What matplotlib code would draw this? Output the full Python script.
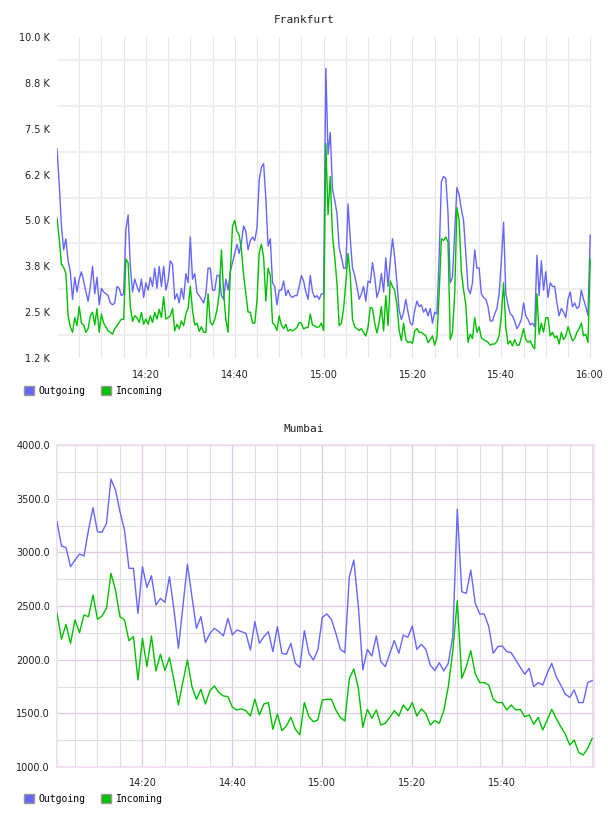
import matplotlib.pyplot as plt
import numpy as np
from matplotlib.patches import Patch

# Frankfurt traffic, one sample every 30 s from 14:00 to 16:00 (thousands)
fra_outgoing = [
    6.95, 6.0, 4.85, 4.2, 4.5, 3.9, 3.6, 2.85, 3.45, 3.05,
    3.4, 3.6, 3.35, 3.05, 2.8, 3.2, 3.75, 3.0, 3.45, 2.7,
    3.15, 3.05, 3.0, 2.95, 2.75, 2.7, 2.75, 3.2, 3.15, 2.95,
    3.0, 4.75, 5.15, 3.75, 3.05, 3.4, 3.2, 3.05, 3.4, 2.9,
    3.3, 3.1, 3.45, 3.2, 3.7, 3.15, 3.75, 3.2, 3.75, 3.1,
    3.35, 3.9, 3.8, 2.85, 3.0, 2.75, 3.15, 2.85, 3.55, 3.3,
    4.55, 3.4, 3.55, 3.03, 2.95, 2.85, 2.75, 3.0, 3.7, 3.7,
    3.1, 3.1, 3.5, 3.5, 2.95, 2.85, 3.4, 3.1, 3.6, 3.85,
    4.1, 4.35, 4.1, 4.4, 4.85, 4.7, 4.2, 4.45, 4.55, 4.45,
    4.8, 6.1, 6.45, 6.55, 5.6, 4.3, 4.5, 3.3, 3.2, 2.7,
    3.1, 3.1, 3.35, 2.95, 3.1, 2.95, 2.9, 2.95, 2.95, 3.2,
    3.5, 3.35, 3.05, 2.85, 3.5, 3.05, 2.9, 2.95, 2.85, 3.0,
    3.0, 9.15, 6.8, 7.4, 5.85, 5.55, 5.2, 4.25, 4.0, 3.7,
    3.7, 5.45, 4.5, 3.7, 3.5, 3.2, 2.85, 3.0, 3.2, 2.8,
    3.35, 3.3, 3.85, 3.45, 2.9, 3.1, 3.55, 3.05, 3.98, 3.2,
    3.9, 4.5, 4.0, 3.3, 2.55, 2.3, 2.5, 2.85, 2.5, 2.2,
    2.15, 2.55, 2.8, 2.65, 2.7, 2.5, 2.6, 2.4, 2.6, 2.2,
    2.5, 2.45, 4.0, 6.05, 6.2, 6.15, 5.2, 3.3, 3.45, 4.65,
    5.9, 5.7, 5.3, 5.0, 4.1, 3.15, 3.0, 3.3, 4.2, 3.7,
    3.7, 3.0, 2.9, 2.85, 2.65, 2.26, 2.26, 2.45, 2.6, 3.0,
    3.9, 4.95, 3.0, 2.7, 2.45, 2.4, 2.25, 2.05, 2.15, 2.3,
    2.75, 2.4, 2.3, 2.15, 2.2, 2.1, 4.05, 2.95, 3.9, 3.1,
    3.6, 2.9, 3.3, 3.2, 3.2, 2.75, 2.4, 2.6, 2.5, 2.35,
    2.85, 3.05, 2.65, 2.75, 2.6, 2.65, 3.1, 2.85, 2.65, 2.4,
    4.6,
]
fra_incoming = [
    5.07, 4.5, 3.8, 3.72, 3.55, 2.4, 2.1, 1.95, 2.35, 2.13,
    2.65, 2.2, 2.15, 1.95, 2.05, 2.4, 2.5, 2.15, 2.6, 1.95,
    2.45, 2.2, 2.1, 1.99, 1.95, 1.9, 2.05, 2.13, 2.22, 2.31,
    2.3, 3.95, 3.85, 2.65, 2.25, 2.4, 2.35, 2.22, 2.49, 2.17,
    2.31, 2.17, 2.4, 2.22, 2.49, 2.31, 2.58, 2.35, 2.92, 2.31,
    2.35, 2.4, 2.6, 1.99, 2.17, 2.04, 2.26, 2.13, 2.45, 2.6,
    3.2, 2.55, 2.15, 2.2, 1.98, 2.1, 1.95, 1.95, 3.0, 2.22,
    2.15, 2.3, 2.55, 3.0, 4.2, 3.0, 2.3, 1.95, 3.6, 4.85,
    5.0, 4.7, 4.6, 4.2, 3.5, 3.0, 2.5, 2.5, 2.2, 2.2,
    2.8, 4.1, 4.35, 4.0, 2.8, 3.7, 3.5, 2.2, 2.15, 2.0,
    2.4, 2.15, 2.05, 2.17, 1.98, 2.03, 1.99, 2.03, 2.08, 2.22,
    2.2, 2.04, 2.08, 2.08, 2.45, 2.15, 2.13, 2.08, 2.1, 2.2,
    2.0, 7.1, 5.16, 6.2, 4.6, 4.0, 3.3, 2.13, 2.2, 2.6,
    3.3, 4.1, 3.5, 2.3, 2.1, 2.05, 2.0, 2.05, 1.95, 1.85,
    2.1, 2.63, 2.6, 2.2, 1.93, 2.22, 2.65, 1.99, 2.95, 2.13,
    3.35, 3.2, 3.1, 2.7, 2.0, 1.72, 2.2, 1.76, 1.67, 1.7,
    1.65, 1.99, 2.05, 1.95, 1.95, 1.9, 1.86, 1.67, 1.75, 1.85,
    1.6, 1.8, 3.0, 4.5, 4.45, 4.55, 4.4, 1.75, 1.95, 3.0,
    5.35, 5.0, 3.6, 3.1, 2.7, 1.68, 1.9, 1.78, 2.35, 1.95,
    2.1, 1.8, 1.75, 1.72, 1.68, 1.6, 1.63, 1.63, 1.7, 1.85,
    2.4, 3.3, 2.1, 1.63, 1.72, 1.58, 1.75, 1.6, 1.6, 1.8,
    2.05, 1.75, 1.68, 1.72, 1.58, 1.5, 3.0, 1.9, 2.2, 1.95,
    2.35, 2.35, 1.85, 1.95, 1.8, 1.85, 1.63, 1.95, 1.75, 1.85,
    2.1, 1.9, 1.72, 1.78, 1.95, 2.05, 2.2, 1.85, 1.9, 1.67,
    3.95,
]

# Mumbai traffic, one sample per minute from 14:01 to 16:00
mum_outgoing = [
    3285, 3059, 3046, 2866, 2928, 2984, 2966, 3208, 3416, 3192,
    3186, 3270, 3683, 3581, 3379, 3208, 2851, 2851, 2431, 2866,
    2674, 2782, 2509, 2571, 2534, 2773, 2470, 2106, 2500, 2890,
    2587, 2292, 2401, 2159, 2246, 2292, 2261, 2221, 2385, 2230,
    2277, 2261, 2246, 2090, 2354, 2152, 2215, 2261, 2075, 2308,
    2059, 2050, 2152, 1966, 1929, 2270, 2059, 1997, 2090, 2395,
    2426, 2376, 2246, 2096, 2065, 2773, 2928, 2500, 1904, 2096,
    2034, 2221, 1982, 1935, 2059, 2177, 2059, 2230, 2208, 2314,
    2096, 2143, 2096, 1950, 1898, 1972, 1895, 1966, 2215, 3400,
    2633, 2618, 2835, 2524, 2425, 2425, 2308, 2059, 2121, 2128,
    2075, 2065, 1997, 1929, 1864, 1919, 1749, 1786, 1764, 1873,
    1966, 1842, 1764, 1680, 1649, 1718, 1600, 1600, 1786, 1805,
]
mum_incoming = [
    2432, 2190, 2329, 2152, 2370, 2252, 2416, 2401, 2602, 2376,
    2407, 2478, 2804, 2649, 2400, 2370, 2177, 2215, 1811, 2199,
    1935, 2221, 1895, 2050, 1898, 2019, 1811, 1578, 1795, 1997,
    1749, 1631, 1724, 1587, 1711, 1755, 1693, 1662, 1655, 1556,
    1531, 1541, 1525, 1475, 1631, 1485, 1587, 1600, 1351, 1494,
    1339, 1382, 1463, 1351, 1300, 1600, 1469, 1422, 1438, 1624,
    1631, 1631, 1531, 1460, 1429, 1826, 1913, 1733, 1370, 1537,
    1454, 1531, 1391, 1407, 1463, 1525, 1475, 1578, 1525, 1600,
    1475, 1541, 1500, 1391, 1432, 1407, 1525, 1749, 2080, 2549,
    1826, 1935, 2084, 1867, 1786, 1786, 1764, 1631, 1600, 1600,
    1531, 1578, 1531, 1537, 1469, 1485, 1398, 1463, 1345, 1438,
    1537, 1454, 1376, 1308, 1205, 1252, 1134, 1112, 1174, 1267,
]

fra_yticks = [1.25, 2.5, 3.75, 5.0, 6.25, 7.5, 8.75, 10.0]
fra_ylabels = ["1.2 K", "2.5 K", "3.8 K", "5.0 K", "6.2 K", "7.5 K", "8.8 K", "10.0 K"]
mum_yticks = [1000, 1500, 2000, 2500, 3000, 3500, 4000]
time_ticks = [20, 40, 60, 80, 100, 120]
time_labels = ["14:20", "14:40", "15:00", "15:20", "15:40", "16:00"]

OUT_COLOR = "#6666ff"
IN_COLOR = "#00c000"
TEXT_COLOR = "#222222"
W, H = 608, 816

fra_minutes = np.arange(len(fra_outgoing)) * 0.5
mum_minutes = np.arange(1, len(mum_outgoing) + 1)

fig = plt.figure(figsize=(W / 100, H / 100), dpi=100)
ax1 = fig.add_axes([57 / W, 1 - 358 / H, 535 / W, 321 / H])
ax2 = fig.add_axes([57 / W, 1 - 767 / H, 537 / W, 322 / H])

tick_font = {"family": "DejaVu Sans", "size": 7}
mono = {"family": "DejaVu Sans Mono"}

# --- Frankfurt ---
ax1.plot(fra_minutes, fra_outgoing, color=OUT_COLOR, lw=1.0, zorder=3)
ax1.plot(fra_minutes, fra_incoming, color=IN_COLOR, lw=1.0, zorder=4)
ax1.set_xlim(0, 120.4)
ax1.set_ylim(1.25, 10.0)
ax1.set_yticks(fra_yticks, fra_ylabels, **tick_font)
ax1.set_yticks(np.arange(1.875, 10, 1.25), minor=True)
ax1.set_xticks(time_ticks, time_labels, **tick_font)
ax1.set_xticks(np.arange(5, 121, 5), minor=True)
ax1.grid(which="minor", axis="y", color="#efefef", lw=1.6)
ax1.grid(which="both", axis="x", color="#e6e6e6", lw=0.8)
ax1.tick_params(which="both", length=0, colors=TEXT_COLOR)
ax1.tick_params(axis="y", pad=5)
ax1.tick_params(axis="x", pad=9)
for s in ax1.spines.values():
    s.set_visible(False)
ax1.set_axisbelow(True)

# --- Mumbai ---
ax2.plot(mum_minutes, mum_outgoing, color=OUT_COLOR, lw=1.0, zorder=3)
ax2.plot(mum_minutes, mum_incoming, color=IN_COLOR, lw=1.0, zorder=4)
ax2.set_xlim(1, 120.4)
ax2.set_ylim(1000, 4000)
ax2.set_yticks(mum_yticks, ["%.1f" % v for v in mum_yticks], **tick_font)
ax2.set_yticks(np.arange(1250, 4000, 500), minor=True)
ax2.set_xticks(time_ticks[:-1], time_labels[:-1], **tick_font)
ax2.set_xticks(np.arange(5, 121, 5), minor=True)
ax2.grid(which="major", color="#dfcadf", lw=0.9)
ax2.grid(which="minor", color="#e3dde3", lw=0.8)
ax2.tick_params(which="both", length=0, colors=TEXT_COLOR)
ax2.tick_params(axis="y", pad=5)
ax2.tick_params(axis="x", pad=8)
for s in ax2.spines.values():
    s.set_color("#f0dcf0")
    s.set_linewidth(1.2)
ax2.set_axisbelow(True)

# titles
fig.text(304 / W, 1 - 20 / H, "Frankfurt", ha="center", va="center",
         fontsize=8, color=TEXT_COLOR, **mono)
fig.text(304 / W, 1 - 429 / H, "Mumbai", ha="center", va="center",
         fontsize=8, color=TEXT_COLOR, **mono)

# legends
handles = [Patch(facecolor=OUT_COLOR, edgecolor="#999999", label="Outgoing"),
           Patch(facecolor=IN_COLOR, edgecolor="#999999", label="Incoming")]
for top in (386, 794):
    fig.legend(handles=handles, loc="upper left",
               bbox_to_anchor=(24 / W, 1 - top / H), ncol=2, frameon=False,
               prop={"family": "DejaVu Sans Mono", "size": 7},
               handlelength=1.0, handleheight=1.0, handletextpad=0.5,
               columnspacing=1.6, borderpad=0, borderaxespad=0)

fig.savefig("out.png", dpi=100)
